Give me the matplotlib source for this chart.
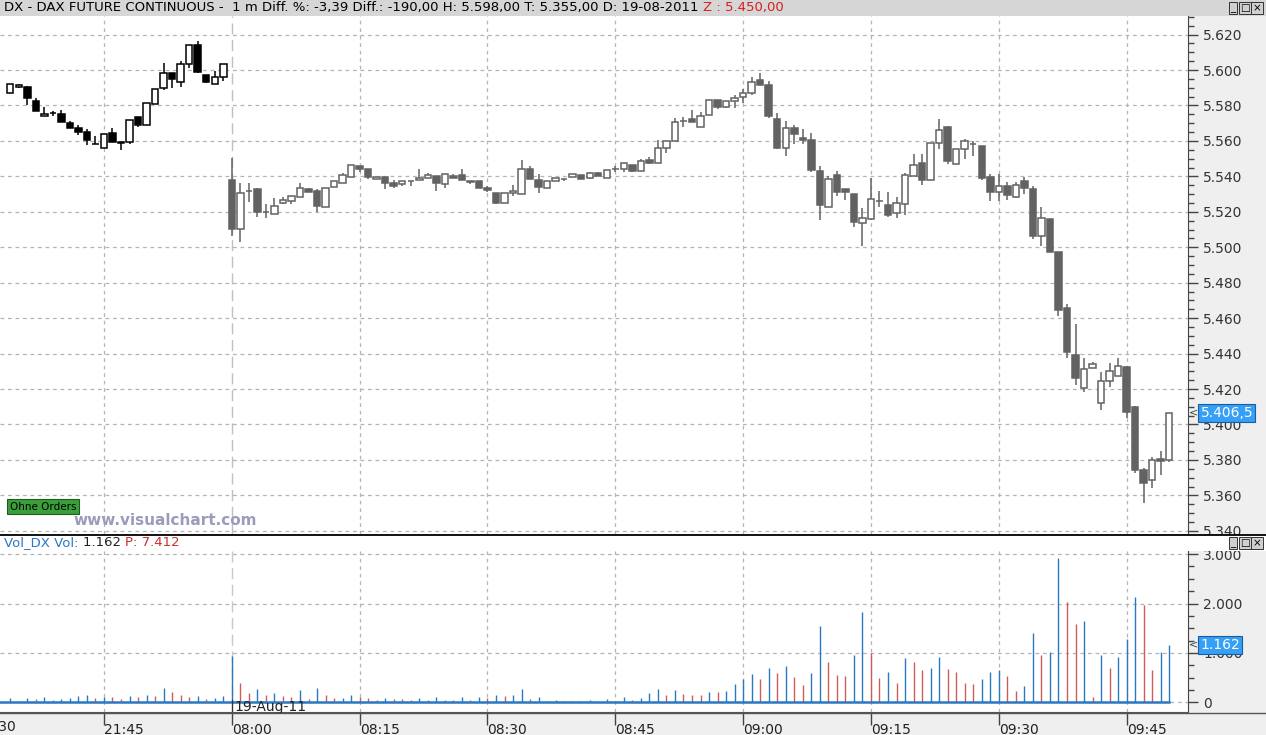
import numpy as np
import matplotlib.pyplot as plt
from matplotlib.patches import Rectangle
from matplotlib.lines import Line2D

# Vortag (21:34 - 21:59), 1-Minuten-Kerzen
prev_open = [5587.0, 5590.4, 5590.4, 5582.7, 5574.0, 5575.5, 5575.2, 5570.3, 5567.3, 5565.0,
             5558.3, 5556.0, 5564.5, 5559.4, 5559.2, 5573.5, 5568.8, 5580.8, 5589.6, 5598.2,
             5593.2, 5603.3, 5614.2, 5597.1, 5592.4, 5596.0]
prev_high = [5592.0, 5591.9, 5591.1, 5584.2, 5579.1, 5577.0, 5577.6, 5571.0, 5568.8, 5566.9,
             5562.6, 5563.9, 5567.5, 5559.4, 5571.9, 5573.5, 5581.3, 5589.2, 5604.2, 5598.2,
             5605.2, 5614.2, 5616.6, 5597.1, 5599.5, 5603.5]
prev_low = [5587.0, 5589.8, 5580.4, 5576.7, 5574.0, 5573.8, 5570.5, 5567.3, 5563.2, 5557.5,
            5558.3, 5556.0, 5559.2, 5554.7, 5558.3, 5567.7, 5568.8, 5580.8, 5588.9, 5589.6,
            5590.7, 5601.4, 5598.4, 5592.8, 5592.4, 5594.1]
prev_close = [5592.0, 5591.5, 5584.5, 5576.7, 5575.3, 5575.5, 5570.8, 5567.3, 5564.8, 5560.3,
              5558.3, 5563.9, 5559.2, 5558.6, 5571.9, 5568.8, 5581.3, 5589.2, 5598.2, 5594.9,
              5603.3, 5614.2, 5599.0, 5593.5, 5596.0, 5603.5]
prev_vol = [95, 27, 95, 74, 108, 54, 74, 81, 135, 149, 95, 115, 108, 74, 128, 108, 149, 128,
            297, 216, 149, 108, 128, 74, 95, 128]

# 19-08-2011, 08:00 - 09:50
day_open = [5538.2, 5510.5, 5531.7, 5532.6, 5519.9, 5518.9, 5524.9, 5526.0, 5528.5, 5533.0,
            5532.0, 5522.9, 5534.1, 5536.4, 5539.7, 5546.1, 5543.9, 5538.6, 5539.7, 5536.0,
            5535.8, 5537.5, 5538.0, 5539.2, 5540.0, 5535.8, 5540.0, 5540.5, 5537.5, 5537.5,
            5533.2, 5530.9, 5524.9, 5530.5, 5530.2, 5544.4, 5538.2, 5533.6, 5537.5, 5538.6,
            5539.7, 5540.9, 5539.2, 5542.0, 5539.2, 5544.4, 5544.2, 5546.7, 5543.1, 5549.5,
            5547.6, 5555.8, 5560.0, 5571.1, 5572.4, 5567.6, 5574.4, 5583.1, 5578.9, 5582.3,
            5584.7, 5586.8, 5594.5, 5591.7, 5572.4, 5555.8, 5567.3, 5561.7, 5560.5, 5543.3,
            5522.8, 5540.5, 5532.6, 5529.8, 5513.8, 5516.1, 5526.0, 5524.0, 5519.5, 5524.3,
            5540.3, 5547.6, 5538.0, 5558.7, 5567.9, 5547.0, 5555.5, 5558.3, 5557.4, 5539.4,
            5531.2, 5534.8, 5528.3, 5537.5, 5533.0, 5506.3, 5515.7, 5497.3, 5465.6, 5439.2,
            5420.4, 5431.9, 5412.0, 5424.7, 5427.5, 5432.2, 5410.1, 5374.5, 5368.8, 5380.6,
            5379.9]
day_high = [5550.1, 5536.0, 5536.0, 5533.6, 5524.2, 5527.9, 5528.5, 5529.0, 5536.0, 5533.6,
            5532.6, 5533.6, 5537.5, 5541.8, 5546.7, 5546.1, 5543.9, 5539.7, 5539.7, 5537.7,
            5537.5, 5537.5, 5544.4, 5542.0, 5540.0, 5541.4, 5541.6, 5544.4, 5537.5, 5537.5,
            5534.5, 5530.9, 5530.9, 5534.9, 5549.5, 5545.6, 5541.6, 5537.5, 5539.2, 5538.6,
            5541.4, 5540.9, 5542.7, 5542.4, 5543.7, 5546.1, 5547.6, 5546.7, 5549.9, 5551.0,
            5560.7, 5560.0, 5573.0, 5573.5, 5577.6, 5576.1, 5583.1, 5583.1, 5582.5, 5586.1,
            5589.3, 5596.0, 5598.3, 5593.6, 5575.7, 5571.1, 5569.0, 5566.7, 5564.5, 5545.7,
            5540.1, 5543.1, 5533.0, 5530.2, 5522.3, 5539.2, 5532.0, 5531.1, 5528.3, 5542.0,
            5552.9, 5552.7, 5558.9, 5572.6, 5568.6, 5555.5, 5561.3, 5560.2, 5557.4, 5541.4,
            5541.5, 5536.8, 5536.7, 5539.7, 5534.5, 5522.8, 5516.1, 5497.3, 5467.9, 5456.8,
            5437.7, 5435.1, 5429.4, 5434.7, 5437.5, 5433.2, 5410.7, 5375.4, 5381.6, 5385.3,
            5406.5]
day_low = [5506.3, 5503.0, 5525.5, 5517.2, 5516.7, 5518.9, 5524.2, 5524.2, 5528.5, 5531.1,
           5519.9, 5522.9, 5534.1, 5536.4, 5539.7, 5542.6, 5538.6, 5538.6, 5533.0, 5533.6,
           5534.5, 5534.5, 5538.0, 5539.2, 5531.7, 5533.6, 5539.0, 5537.9, 5535.6, 5533.4,
           5531.1, 5524.2, 5524.9, 5528.9, 5530.2, 5538.6, 5530.7, 5533.6, 5537.5, 5537.5,
           5539.7, 5538.6, 5538.6, 5540.3, 5539.2, 5542.6, 5542.6, 5542.6, 5543.1, 5546.9,
           5547.6, 5553.0, 5560.0, 5567.7, 5570.5, 5567.6, 5574.4, 5578.0, 5578.4, 5578.6,
           5581.4, 5585.9, 5591.3, 5572.7, 5555.7, 5551.4, 5558.1, 5558.0, 5542.2, 5515.3,
           5522.8, 5528.8, 5526.6, 5511.6, 5500.7, 5515.3, 5522.7, 5517.0, 5516.5, 5518.3,
           5540.3, 5535.4, 5538.0, 5555.5, 5546.9, 5547.0, 5550.0, 5551.4, 5537.9, 5526.0,
           5526.0, 5526.6, 5527.7, 5530.0, 5504.8, 5500.7, 5497.3, 5461.3, 5437.3, 5422.5,
           5418.2, 5431.9, 5408.4, 5421.4, 5427.5, 5403.7, 5372.6, 5355.7, 5364.1, 5371.3,
           5379.1]
day_close = [5510.1, 5530.4, 5531.7, 5519.9, 5519.9, 5523.4, 5526.8, 5529.0, 5533.6, 5531.1,
             5523.2, 5533.6, 5537.5, 5540.5, 5546.7, 5544.2, 5539.7, 5539.7, 5536.4, 5534.5,
             5537.5, 5537.5, 5539.2, 5540.5, 5536.2, 5541.4, 5539.0, 5537.9, 5536.7, 5533.4,
             5532.4, 5524.9, 5530.9, 5532.0, 5544.4, 5538.6, 5533.9, 5537.5, 5539.2, 5538.6,
             5541.4, 5538.6, 5542.0, 5540.3, 5543.7, 5544.4, 5547.6, 5542.9, 5548.7, 5547.6,
             5556.0, 5560.0, 5570.7, 5571.1, 5570.5, 5573.9, 5583.1, 5578.9, 5582.5, 5584.2,
             5587.0, 5593.2, 5591.3, 5573.9, 5556.2, 5567.3, 5563.7, 5560.4, 5543.5, 5523.8,
             5538.6, 5531.1, 5531.1, 5514.2, 5516.7, 5527.4, 5526.0, 5518.3, 5524.9, 5540.5,
             5546.5, 5537.8, 5558.9, 5566.2, 5548.5, 5555.5, 5560.0, 5558.3, 5539.0, 5531.1,
             5534.6, 5529.3, 5535.2, 5533.4, 5506.3, 5516.7, 5497.3, 5464.7, 5440.7, 5426.0,
             5431.3, 5433.9, 5424.4, 5430.0, 5432.8, 5407.3, 5374.1, 5366.9, 5379.9, 5379.3,
             5406.5]
day_vol = [940, 392, 189, 277, 149, 189, 128, 108, 250, 74, 297, 149, 88, 95, 149, 115, 95, 47,
           95, 74, 68, 47, 95, 47, 108, 47, 41, 108, 47, 108, 95, 149, 128, 149, 270, 68, 108,
           27, 47, 27, 34, 27, 47, 27, 68, 30, 108, 47, 88, 189, 270, 149, 250, 169, 149, 142,
           210, 203, 230, 372, 473, 575, 473, 696, 595, 737, 514, 352, 595, 1537, 818, 554, 537,
           966, 1822, 993, 496, 619, 394, 904, 823, 660, 700, 925, 680, 619, 394, 374, 476, 619,
           660, 537, 231, 333, 1408, 966, 1020, 2917, 2026, 1578, 1639, 109, 966, 700, 925, 1272,
           2128, 1965, 660, 1020, 1162]

time_pos = [-4, 11, 26, 41, 56, 71, 86, 101, 116, 131]
time_labels = ['21:30', '21:45', '08:00', '08:15', '08:30', '08:45', '09:00', '09:15', '09:30', '09:45']
price_ticks = np.arange(5340, 5621, 20)
vol_ticks = [0, 1000, 2000, 3000]

W, H = 1266, 735


def rect(x0, y0, x1, y1):
    return [x0 / W, 1 - y1 / H, (x1 - x0) / W, (y1 - y0) / H]


def fy(y):
    return 1 - y / H


plt.rcParams['font.family'] = ['DejaVu Sans']
fig = plt.figure(figsize=(W / 100, H / 100), dpi=100)
fig.patch.set_facecolor('#efefef')

n_prev = len(prev_open)
x_prev = np.arange(n_prev)
x_day = np.arange(n_prev, n_prev + len(day_open))
xlim = (-1.2, 138.2)
grid_kw = dict(color='#b4b4b4', lw=0.9, ls=(0, (3, 3)))

# Kopfzeile und Trennstreifen
fig.patches.append(Rectangle((0, fy(16)), 1, 16 / H, transform=fig.transFigure,
                             fc='#d6d6d6', ec='none', zorder=0))
fig.patches.append(Rectangle((0, fy(551)), 1, 16 / H, transform=fig.transFigure,
                             fc='white', ec='none', zorder=0))
fig.lines.append(Line2D([0, 1], [fy(535), fy(535)], transform=fig.transFigure,
                        color='black', lw=1.3))
fig.lines.append(Line2D([0, 1], [fy(713), fy(713)], transform=fig.transFigure,
                        color='#555555', lw=1.0))

# --- Kurs-Panel ---
ax = fig.add_axes(rect(0, 16, 1188, 534))
ax.set_facecolor('white')
ax.set_xlim(*xlim)
ax.set_ylim(5338.2, 5630.5)
for t in price_ticks:
    ax.axhline(t, zorder=0, **grid_kw)
for p in time_pos[1:]:
    if p == n_prev:
        ax.axvline(p, color='#c0c0c0', lw=1.0, ls=(0, (8, 4)), zorder=0)
    else:
        ax.axvline(p, zorder=0, **grid_kw)


def candles(xs, o, h, l, c, dark):
    o, h, l, c = map(np.asarray, (o, h, l, c))
    up = c >= o
    ax.vlines(xs, l, h, color=dark, lw=1.1, zorder=2)
    bottom = np.minimum(o, c)
    height = np.abs(c - o)
    faces = np.where(up, 'white', dark)
    ax.bar(xs, height, 0.76, bottom=bottom, color=faces, edgecolor=dark, lw=1.1, zorder=3)


candles(x_prev, prev_open, prev_high, prev_low, prev_close, 'black')
candles(x_day, day_open, day_high, day_low, day_close, '#626262')

ax.yaxis.tick_right()
ax.set_yticks(price_ticks)
ax.set_yticklabels([f'{t / 1000:.3f}' for t in price_ticks])
ax.set_yticks(np.arange(5340, 5631, 5), minor=True)
ax.tick_params(axis='y', which='major', length=7, width=1, color='#444444',
               labelsize=10, labelcolor='#333333', pad=4)
ax.tick_params(axis='y', which='minor', length=4, width=1, color='#444444')
ax.set_xticks([])
for s in ['top', 'left', 'bottom']:
    ax.spines[s].set_visible(False)
ax.spines['right'].set_color('#444444')

ax.text(0.008, 0.053, 'Ohne Orders', transform=ax.transAxes, fontsize=7.5, color='black',
        va='center', ha='left',
        bbox=dict(boxstyle='square,pad=0.25', fc='#3a9f3a', ec='#1d5e1d', lw=0.8))
ax.text(0.062, 0.026, 'www.visualchart.com', transform=ax.transAxes, fontsize=11,
        fontweight='bold', color='#9b9bbb', va='center', ha='left')

last = day_close[-1]
ax.annotate('5.406,5', xy=(1, last), xycoords=('axes fraction', 'data'),
            xytext=(9, 0), textcoords='offset points', va='center', ha='left',
            fontsize=10, color='white', zorder=6,
            bbox=dict(boxstyle='square,pad=0.15', fc='#35a0f5', ec='#1b5c9c', lw=0.8))
ax.annotate('<', xy=(1, last), xycoords=('axes fraction', 'data'), xytext=(0.5, 0),
            textcoords='offset points', va='center', ha='left', fontsize=8, color='#444444')

# --- Volumen-Panel ---
vol = np.array(prev_vol + day_vol)
xs = np.arange(len(vol))
prev_v = np.concatenate([[0], vol[:-1]])
vcol = np.where(vol >= prev_v, '#2b78c2', '#cf5b5b')

axv = fig.add_axes(rect(0, 551, 1188, 712))
axv.set_facecolor('white')
axv.set_xlim(*xlim)
axv.set_ylim(-196, 3063)
for t in vol_ticks:
    axv.axhline(t, zorder=0, **grid_kw)
for p in time_pos[1:]:
    if p == n_prev:
        axv.axvline(p, color='#c8c8c8', lw=1.0, ls=(0, (8, 4)), zorder=0)
    else:
        axv.axvline(p, zorder=0, **grid_kw)
axv.vlines(xs, 0, vol, colors=vcol, lw=1.0, zorder=2)
axv.axhline(0, xmax=(xs[-1] - xlim[0]) / (xlim[1] - xlim[0]), color='#2b78c2', lw=1.8, zorder=3)

axv.yaxis.tick_right()
axv.set_yticks(vol_ticks)
axv.set_yticklabels(['0' if t == 0 else f'{t / 1000:.3f}' for t in vol_ticks])
axv.set_yticks(np.arange(0, 3001, 250), minor=True)
axv.tick_params(axis='y', which='major', length=7, width=1, color='#444444',
                labelsize=10, labelcolor='#333333', pad=4)
axv.tick_params(axis='y', which='minor', length=4, width=1, color='#444444')
axv.spines['top'].set_visible(False)
axv.spines['left'].set_visible(False)
axv.spines['right'].set_color('#444444')
axv.spines['bottom'].set_color('#555555')

axv.set_xticks(time_pos[1:])
axv.set_xticklabels(time_labels[1:], ha='left')
axv.tick_params(axis='x', length=9, width=1, color='#444444', labelsize=10,
                labelcolor='#222222', pad=-1)
# 21:30 liegt links ausserhalb, nur das Ende ist sichtbar
axv.annotate(time_labels[0], xy=(time_pos[0], 0), xycoords=axv.get_xaxis_transform(),
             xytext=(0, -6), textcoords='offset points', ha='left', va='top',
             fontsize=10, color='#222222', annotation_clip=False)

axv.plot([n_prev, n_prev], [-196, 40], color='#333333', lw=0.9, zorder=4)
axv.text(n_prev + 0.3, -85, '19-Aug-11', ha='left', va='center', fontsize=10,
         color='#222222', zorder=4)

axv.annotate('1.162', xy=(1, vol[-1]), xycoords=('axes fraction', 'data'),
             xytext=(9, 0), textcoords='offset points', va='center', ha='left',
             fontsize=10, color='white', zorder=6,
             bbox=dict(boxstyle='square,pad=0.15', fc='#35a0f5', ec='#1b5c9c', lw=0.8))
axv.annotate('<', xy=(1, vol[-1]), xycoords=('axes fraction', 'data'), xytext=(0.5, 0),
             textcoords='offset points', va='center', ha='left', fontsize=8, color='#444444')

# Texte in den Kopfzeilen, farbige Teile hintereinander gesetzt
fig.canvas.draw()
renderer = fig.canvas.get_renderer()


def text_row(x, y, parts, size):
    for s, col in parts:
        t = fig.text(x / W, fy(y), s, fontsize=size, color=col, va='center', ha='left')
        x = t.get_window_extent(renderer).x1


text_row(4, 8, [('DX - DAX FUTURE CONTINUOUS -  1 m Diff. %: -3,39 Diff.: -190,00 '
                 'H: 5.598,00 T: 5.355,00 D: 19-08-2011 ', 'black'),
                ('Z : 5.450,00', '#d42020')], 9.55)
text_row(4, 543, [('Vol_DX Vol: ', '#2b78c2'), ('1.162 ', '#222222'),
                  ('P: 7.412', '#c8302c')], 9.5)

for yy in (8, 543):
    for k, g in enumerate(['_', '□', '×']):
        fig.text((1233 + k * 12) / W, fy(yy), g, fontsize=7.5, color='black',
                 va='center', ha='center',
                 bbox=dict(boxstyle='square,pad=0.12', fc='#d0d0d0', ec='#333333', lw=0.7))

fig.savefig('out.png', dpi=100, facecolor=fig.get_facecolor())
